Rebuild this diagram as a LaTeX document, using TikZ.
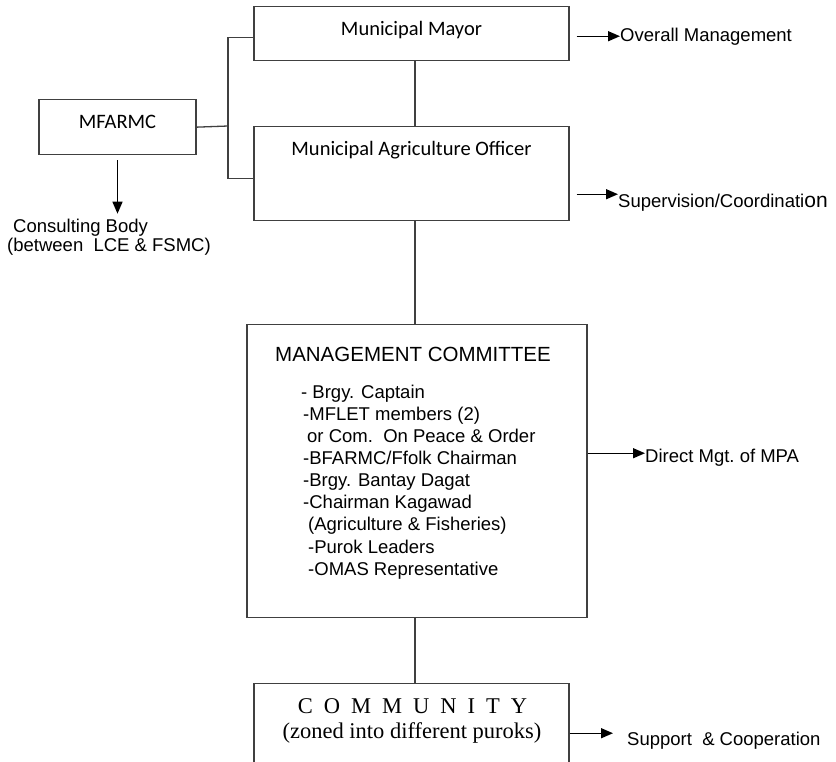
\documentclass[tikz,border=0pt]{standalone}
\usepackage{fontspec}
\newfontfamily\arialfont{Liberation Sans}
\newfontfamily\calibrifont{Carlito}
\newfontfamily\cambriafont{Liberation Serif}
\usetikzlibrary{%
  arrows.meta,%
  positioning%
}
\definecolor{boxgray}{HTML}{404040}

\tikzset{
  box/.style={draw=boxgray, line width=1.3pt, inner sep=0pt, minimum width=315pt},
  boxtext/.style={font=\calibrifont\fontsize{20.5}{24}\selectfont},
  lbl/.style={inner sep=0pt, font=\arialfont\fontsize{18.5}{22.1}\selectfont},
  commtext/.style={inner sep=0pt, font=\cambriafont\fontsize{22.5}{25}\selectfont},
  link/.style={draw=boxgray, line width=1.3pt},
  arr/.style={-{Triangle[length=12pt,width=10pt]}, line width=1.4pt},
}

\begin{document}
\begin{tikzpicture}[x=1pt, y=-1pt]

\clip (0,0) rectangle (836,761);

% boxes
\node[box, boxtext, anchor=north, text height=29pt, text depth=25pt] (mayor) at (411.5,6) {Municipal Mayor};
\node[box, boxtext, anchor=north, text height=29pt, text depth=65pt] (mao) at (411.5,126) {Municipal Agriculture Officer};
\node[box, boxtext, anchor=north, minimum width=157pt, text height=29pt, text depth=26pt] (mfarmc) at (117.5,99) {MFARMC};
\node[box, anchor=north, minimum width=340pt, minimum height=293pt] (mc) at (417,324) {};
\node[box, anchor=north, minimum height=120pt] (comm) at (411.5,683) {};

% texts inside
\node[lbl, anchor=base, font=\arialfont\fontsize{20.5}{24}\selectfont] (mctitle) at (413,361) {MANAGEMENT COMMITTEE};
\node[lbl, anchor=north west, align=left] (mclist) at (301,384.7) {%
  - Brgy. Captain\\
  \hspace{2pt}-MFLET members (2)\\
  \hspace{6pt}or Com.\ \ On Peace \& Order\\
  \hspace{2pt}-BFARMC/Ffolk Chairman\\
  \hspace{2pt}-Brgy. Bantay Dagat\\
  \hspace{2pt}-Chairman Kagawad\\
  \hspace{7pt}(Agriculture \& Fisheries)\\
  \hspace{7pt}-Purok Leaders\\
  \hspace{7pt}-OMAS Representative};
\node[commtext, anchor=base] (commtitle) at (412.5,713) {{\spaceskip=11pt C O M M U N I T Y}};
\node[commtext, anchor=base] (commsub) at (412,738) {(zoned into different puroks)};

% side labels
\node[lbl, anchor=base west] (overall) at (620,41) {Overall Management};
\node[lbl, anchor=base west] (sup) at (618,207) {Supervision/Coordinati{\fontsize{21}{22}\selectfont on}};
\node[lbl, anchor=base west] (direct) at (645,462) {Direct Mgt.\ of MPA};
\node[lbl, anchor=base west] (support) at (627,745) {Support \ \& Cooperation};
\node[lbl, anchor=north west, align=left, font=\arialfont\fontsize{18.5}{19}\selectfont] (consult) at (7,218.7) {\hspace{6pt}Consulting Body\\(between \ LCE \& FSMC)};

% lines
\coordinate (brk) at (228,126);
\draw[link] (mfarmc.east) -- (brk);
\draw[link] ([yshift=-4pt]mayor.west) -| (brk) |- ([yshift=-5pt]mao.west);
\draw[link] ([xshift=3.5pt]mayor.south) -- ([xshift=3.5pt]mao.north);
\draw[link] ([xshift=3.5pt]mao.south) -- ([xshift=-2pt]mc.north);
\draw[link] ([xshift=-2pt]mc.south) -- ([xshift=3.5pt]comm.north);

% arrows
\path (mfarmc.south |- consult.north) ++(0,-5) coordinate (ctip);
\draw[arr] ([yshift=-5pt]mfarmc.south) -- (ctip);
\path ([xshift=7pt]mayor.east) coordinate (mayorr);
\draw[arr] (mayorr |- overall.west) -- (overall.west);
\path ([xshift=7pt]mao.east) coordinate (maor);
\path ([yshift=8pt]sup.west) coordinate (suptip);
\draw[arr] (maor |- suptip) -- (suptip);
\path ([yshift=4pt]direct.west) coordinate (dirtip);
\draw[arr] (mc.east |- dirtip) -- (dirtip);
\path ([xshift=-14pt,yshift=7pt]support.west) coordinate (suptip2);
\draw[arr] (comm.east |- suptip2) -- (suptip2);

\end{tikzpicture}
\end{document}
